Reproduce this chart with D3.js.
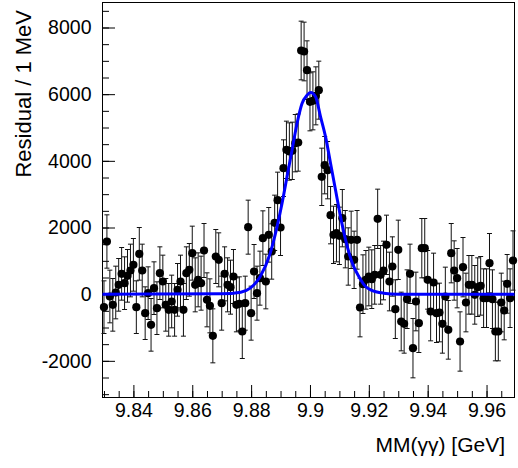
<!DOCTYPE html>
<html>
<head>
<meta charset="utf-8">
<script src="https://cdn.jsdelivr.net/npm/d3@7"></script>
<style>
  body { margin: 0; background: #fff; }
  svg { display: block; font-family: "Liberation Sans", Arial, Helvetica, sans-serif; }
</style>
</head>
<body>
<div id="chart"></div>
<script>
// Data: residual per 1 MeV bin, bins centred on 9.830 ... 9.969 GeV
const binCount = 140
const binStart = 9.830   // centre of first bin
const binWidth = 0.001

const residuals = [
  -390, 1580, -70, -320, 50, 280, 610, 330, 550, 710,
  880, -390, 1210, 710, -570, 30, -920, 180, -420, 630,
  380, -320, -470, -220, -470, 130, 380, -470, 630, 730,
  1230, 280, 430, 330, 1310, -170, -350, -1250, 1130, 1030,
  -270, 610, 280, 210, 530, -320, -290, -1120, -270, 2010,
  -570, 680, 30, 480, 1680, 380, 1780, 1280, 2140, 2820,
  2000, 3780, 4330, 4280, 4300, 4530, 4550, 7310, 7280, 6720,
  5770, 5800, 5950, 6120, 3520, 3870, 3720, 2370, 1780, 1830,
  1750, 2280, 1650, 1130, 1630, 1030, 1630, -400, 300, 430,
  530, 450, 580, 2260, 580, 710, 1480, 380, 830, -450,
  1330, -820, -890, -150, 610, -1620, -220, -870, 1380, 1380,
  430, -520, 350, -570, -550, -890, -70, -1070, 1230, 710,
  480, -1420, 810, -250, 280, 280, -20, 210, 250, -120,
  -120, 930, -150, -1120, -1120, -250, -490, 310, -120, 1010
]

const errors = [
  790, 800, 790, 790, 790, 790, 790, 790, 790, 790,
  790, 790, 790, 790, 790, 790, 790, 790, 790, 790,
  790, 790, 790, 790, 790, 790, 790, 790, 790, 790,
  810, 810, 810, 810, 810, 810, 810, 810, 810, 810,
  810, 810, 810, 810, 810, 810, 810, 810, 810, 810,
  810, 810, 810, 810, 820, 820, 820, 830, 830, 840,
  840, 850, 860, 860, 860, 860, 860, 880, 880, 880,
  870, 870, 870, 870, 860, 860, 860, 860, 860, 860,
  860, 860, 860, 860, 860, 860, 880, 880, 880, 880,
  880, 880, 880, 890, 880, 880, 890, 880, 890, 880,
  890, 880, 880, 880, 890, 890, 880, 880, 890, 890,
  880, 880, 880, 880, 880, 880, 880, 880, 890, 890,
  890, 890, 890, 880, 880, 880, 880, 880, 880, 880,
  880, 890, 880, 880, 880, 880, 880, 880, 880, 890
]

// fitted curve
const fitMass  = [9.8295, 9.870, 9.8765, 9.8797, 9.8831, 9.8865, 9.8888, 9.8905, 9.8922, 9.8939,
                  9.8956, 9.8973, 9.8990, 9.9002, 9.9019, 9.9036, 9.9053, 9.9070, 9.9087, 9.9104,
                  9.9121, 9.9144, 9.9166, 9.9189, 9.9206, 9.925, 9.930, 9.9695]
const fitValue = [0, 10, 60, 180, 530, 1230, 2020, 2720, 3520, 4320,
                  5120, 5720, 5970, 6050, 5920, 5320, 4720, 3920, 3120, 2320,
                  1630, 930, 530, 230, 130, 30, 0, 0]

const xMajor = [9.84, 9.86, 9.88, 9.90, 9.92, 9.94, 9.96]
const xMinor = d3.range(0, 28).map(i => 9.830 + i * 0.005)
const yMajor = [-2000, 0, 2000, 4000, 6000, 8000]
const yMinor = d3.range(-3000, 8501, 500)

// Dimensions
const dimensions = { width: 518, height: 468 }
const frame = { left: 102.5, right: 514.5, top: 2.5, bottom: 397.5 }

const svg = d3.select('#chart')
  .append('svg')
  .attr('width', dimensions.width)
  .attr('height', dimensions.height)

// scales
const x = d3.scaleLinear().domain([9.8295, 9.9695]).range([frame.left, frame.right])
const y = d3.scaleLinear().domain([-3100, 8750]).range([frame.bottom, frame.top])

const bins = d3.range(binCount).map(i => ({
  m: binStart + i * binWidth,
  v: residuals[i],
  e: errors[i]
}))

// axes - ROOT style ticks pointing inwards
const xMinorAxis = d3.axisBottom(x).tickValues(xMinor).tickSize(-6.5).tickFormat('')
const xMajorAxis = d3.axisBottom(x).tickValues(xMajor).tickSize(-12.5).tickPadding(6)
  .tickFormat(d => String(+d.toFixed(2)))
const yMinorAxis = d3.axisLeft(y).tickValues(yMinor).tickSize(-6.5).tickFormat('')
const yMajorAxis = d3.axisLeft(y).tickValues(yMajor).tickSize(-12.5).tickPadding(11)
  .tickFormat(d => String(d))   // plain "-2000", no thousands comma

function styleAxis(g) {
  g.select('.domain').remove()
  g.selectAll('line').attr('stroke', '#000')
  g.selectAll('text').attr('font-size', 19.5).attr('fill', '#000')
    .attr('font-family', '"Liberation Sans", Arial, sans-serif')
}

svg.append('g').attr('transform', `translate(0,${frame.bottom})`).call(xMinorAxis).call(styleAxis)
svg.append('g').attr('transform', `translate(0,${frame.bottom})`).call(xMajorAxis).call(styleAxis)
svg.append('g').attr('transform', `translate(${frame.left},0)`).call(yMinorAxis).call(styleAxis)
svg.append('g').attr('transform', `translate(${frame.left},0)`).call(yMajorAxis).call(styleAxis)

// frame
svg.append('rect')
  .attr('x', frame.left)
  .attr('y', frame.top)
  .attr('width', frame.right - frame.left)
  .attr('height', frame.bottom - frame.top)
  .attr('fill', 'none')
  .attr('stroke', '#000')

// error bars
const bars = svg.append('g').attr('stroke', '#111').attr('stroke-width', 1)
bars.selectAll('line.err')
  .data(bins)
  .join('line')
  .attr('class', 'err')
  .attr('x1', d => x(d.m)).attr('x2', d => x(d.m))
  .attr('y1', d => y(d.v - d.e)).attr('y2', d => y(d.v + d.e))
bars.selectAll('line.capHi')
  .data(bins)
  .join('line')
  .attr('class', 'capHi')
  .attr('x1', d => x(d.m) - 2.5).attr('x2', d => x(d.m) + 2.5)
  .attr('y1', d => y(d.v + d.e)).attr('y2', d => y(d.v + d.e))
bars.selectAll('line.capLo')
  .data(bins)
  .join('line')
  .attr('class', 'capLo')
  .attr('x1', d => x(d.m) - 2.5).attr('x2', d => x(d.m) + 2.5)
  .attr('y1', d => y(d.v - d.e)).attr('y2', d => y(d.v - d.e))

// markers
svg.append('g')
  .selectAll('circle')
  .data(bins)
  .join('circle')
  .attr('cx', d => x(d.m))
  .attr('cy', d => y(d.v))
  .attr('r', 4.1)
  .attr('fill', '#000')

// fit
const line = d3.line()
  .x((d, i) => x(fitMass[i]))
  .y(d => y(d))
  .curve(d3.curveMonotoneX)
svg.append('path')
  .datum(fitValue)
  .attr('d', line)
  .attr('fill', 'none')
  .attr('stroke', '#0000ff')
  .attr('stroke-width', 3)

// titles
svg.append('text')
  .attr('x', 505)
  .attr('y', 452)
  .attr('text-anchor', 'end')
  .attr('font-size', 21)
  .text('MM(γγ) [GeV]')

svg.append('text')
  .attr('transform', 'translate(31,10) rotate(-90)')
  .attr('text-anchor', 'end')
  .attr('font-size', 22)
  .text('Residual / 1 MeV')
</script>
</body>
</html>
